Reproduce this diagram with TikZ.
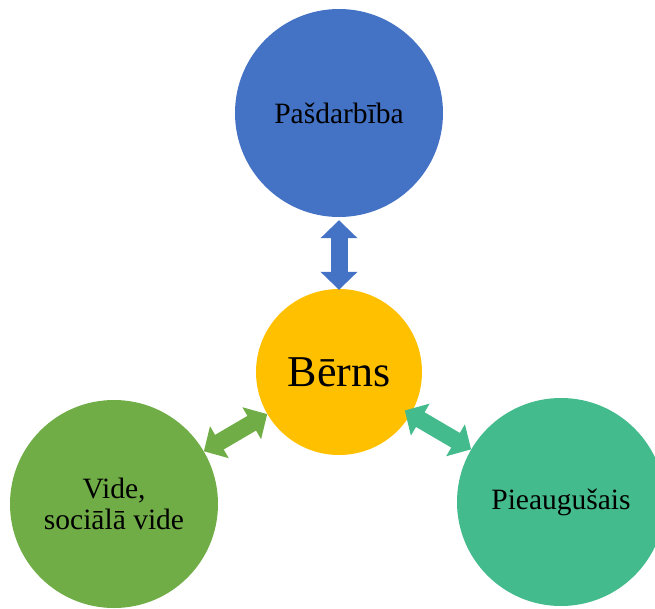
\documentclass[tikz,border=0pt]{standalone}
\usepackage{fontspec}
\setmainfont{Liberation Serif}
\usetikzlibrary{arrows.meta}
\definecolor{cblue}{HTML}{4472C4}
\definecolor{cgold}{HTML}{FFC000}
\definecolor{cgreen}{HTML}{70AD47}
\definecolor{cteal}{HTML}{44BB8C}
\begin{document}
\begin{tikzpicture}[x=1pt,y=-1pt,
  bubble/.style={circle,inner sep=0pt,minimum size=#1,text=black,
    font=\fontsize{29.5}{31}\selectfont,align=center},
  link/.style={line width=17pt,draw=#1,
    {Triangle[width=36pt,length=18pt]}-{Triangle[width=36pt,length=18pt]}}]
\useasboundingbox (0,0) rectangle (655,608);
\clip (0,0) rectangle (655,608);
% the four circles
\node[bubble=208pt,fill=cblue]  (act)   at (339,113) {Pašdarbība};
\node[bubble=166pt,fill=cgold,font=\fontsize{44}{48}\selectfont] (child) at (339,372) {Bērns};
\node[bubble=208pt,fill=cgreen] (env)   at (114,504) {Vide,\\sociālā vide};
\node[bubble=208pt,fill=cteal]  (adult) at (561,502) {Pieaugušais};
% two-way links to the centre
\draw[link=cblue,shorten <=3pt,shorten >=-1pt] (act) -- (child);
\draw[link=cgreen] (child) -- (env);
\draw[link=cteal,shorten <=-7pt] (child) -- (adult);
\end{tikzpicture}
\end{document}
